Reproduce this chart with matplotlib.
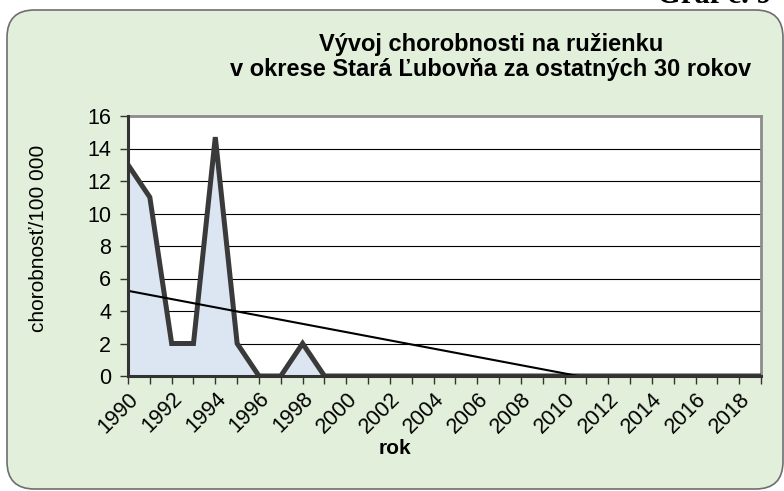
import numpy as np
import matplotlib
matplotlib.use("Agg")
import matplotlib.pyplot as plt
from matplotlib.patches import FancyBboxPatch

years = list(range(1990, 2020))
values = [13, 11, 2, 2, 14.7, 2, 0, 0, 2, 0,
          0, 0, 0, 0, 0, 0, 0, 0, 0, 0,
          0, 0, 0, 0, 0, 0, 0, 0, 0, 0]
title = "Vývoj chorobnosti na ružienku\nv okrese Stará Ľubovňa za ostatných 30 rokov"
ylabel = "chorobnosť/100 000"
xlabel = "rok"

plt.rcParams['font.family'] = ['Liberation Sans', 'DejaVu Sans']

W, H = 784, 491
fig = plt.figure(figsize=(W / 100, H / 100), dpi=100)
fig.patch.set_facecolor('white')

box = FancyBboxPatch((7 / W, 2 / H), (776 / W), (479 / H),
                     boxstyle="round,pad=0,rounding_size=0.035",
                     transform=fig.transFigure, facecolor='#e2efda',
                     edgecolor='#6e6e6e', linewidth=1.2, mutation_aspect=W / H,
                     zorder=-10)
fig.patches.append(box)

fig.text(0.985, 1 - 3 / H, "Graf č. 9", ha='right', va='baseline',
         fontsize=22, fontweight='bold', family='Liberation Serif')

ax = fig.add_axes([128 / W, 1 - 376 / H, (761 - 128) / W, (376 - 116) / H])
ax.set_facecolor('white')

x = np.array(years, dtype=float)
y = np.array(values, dtype=float)
ax.fill_between(x, y, 0, color='#dce6f2', zorder=1)
ax.plot(x, y, color='#3a3a3a', lw=3.6, solid_joinstyle='miter', zorder=3)

coef = np.polyfit(x - x[0], y, 1)
trend = np.polyval(coef, x - x[0])
ax.plot(x, trend, color='black', lw=1.5, zorder=4)

ax.set_xlim(years[0], years[-1])
ax.set_ylim(0, 16)
ax.set_yticks(range(0, 17, 2))
ax.grid(axis='y', color='black', lw=0.8, zorder=0)
ax.set_axisbelow(True)

ax.set_xticks(years)
ax.set_xticklabels([str(yy) if (yy - 1990) % 2 == 0 else '' for yy in years],
                   rotation=45, ha='right', va='top', rotation_mode='anchor',
                   fontsize=15.5)
ax.tick_params(axis='x', length=6, width=1, color='#333333', pad=3)
ax.tick_params(axis='y', length=6, width=1, color='#333333', labelsize=15.5, pad=6)

for s in ['left', 'bottom']:
    ax.spines[s].set_color('#333333')
    ax.spines[s].set_linewidth(2.2)
    ax.spines[s].set_zorder(5)
for s in ['top', 'right']:
    ax.spines[s].set_color('#8c8c8c')
    ax.spines[s].set_linewidth(2)

ax.set_ylabel(ylabel, fontsize=15)
ax.yaxis.set_label_coords(-80 / 633, 0.53)
fig.text(395 / W, 1 - 448 / H, xlabel, ha='center', va='center',
         fontsize=15, fontweight='bold')

fig.text(491 / W, 1 - 57 / H, title, ha='center', va='center',
         fontsize=17, fontweight='bold', linespacing=1.1)

fig.savefig("out.png", dpi=100, facecolor=fig.get_facecolor())
